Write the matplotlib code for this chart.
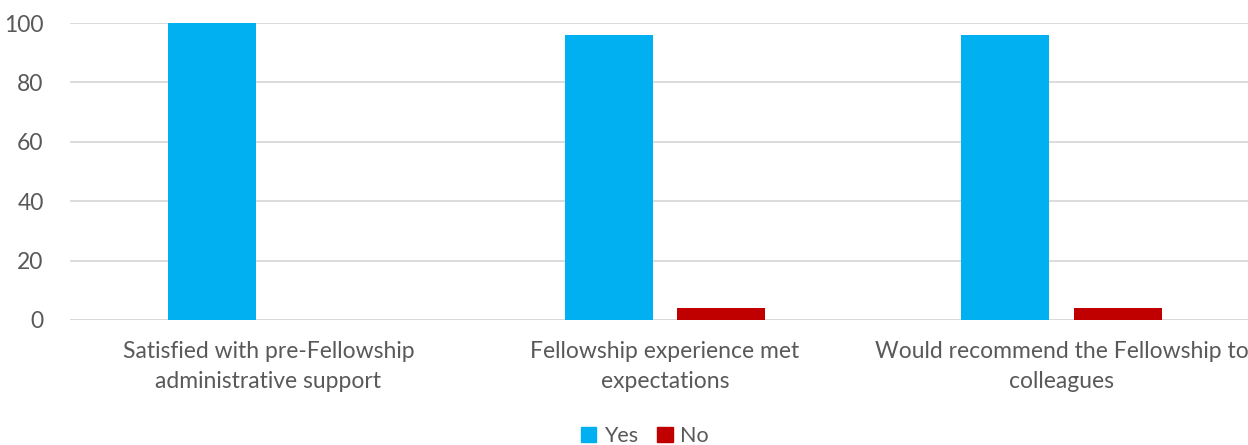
import numpy as np
import matplotlib.pyplot as plt
from matplotlib.patches import Patch

categories = ["Satisfied with pre-Fellowship\nadministrative support",
              "Fellowship experience met\nexpectations",
              "Would recommend the Fellowship to\ncolleagues"]
yes_vals = [100, 96, 96]
no_vals = [0, 4, 4]
yticks = [0, 20, 40, 60, 80, 100]

plt.rcParams['font.family'] = ['Lato', 'DejaVu Sans']
gris = '#595959'
tam = 16.5

fig = plt.figure(figsize=(12.48, 4.45), dpi=100)
ax = fig.add_axes([70/1248, 1-320/445, 1190/1248, 297/445])

x = np.arange(len(categories))
ancho = 0.222
ax.bar(x - 0.142, yes_vals, ancho, color='#00B0F0', label='Yes', zorder=3)
ax.bar(x + 0.142, no_vals, ancho, color='#C00000', label='No', zorder=3)

ax.set_xlim(-0.5, 2.5)
ax.set_ylim(0, 100)
ax.set_yticks(yticks)
ax.yaxis.grid(True, color='#D9D9D9', lw=1.3, zorder=0)
ax.set_axisbelow(True)
ax.set_xticks(x)
ax.set_xticklabels(categories, fontsize=tam, color=gris, linespacing=1.55)
ax.tick_params(axis='y', length=0, pad=19, labelsize=tam, labelcolor=gris)
ax.tick_params(axis='x', length=0, pad=15)
for s in ax.spines.values():
    s.set_visible(False)
ax.axhline(0, color='#D9D9D9', lw=1.3, zorder=1)

handles = [Patch(color='#00B0F0', label='Yes'), Patch(color='#C00000', label='No')]
fig.legend(handles=handles, loc='center', bbox_to_anchor=(645/1248, 1-436/445),
           ncol=2, frameon=False, fontsize=15.5, labelcolor=gris,
           handlelength=0.7, handleheight=0.7, handletextpad=0.35, columnspacing=0.9)

fig.savefig('out.png', dpi=100)
